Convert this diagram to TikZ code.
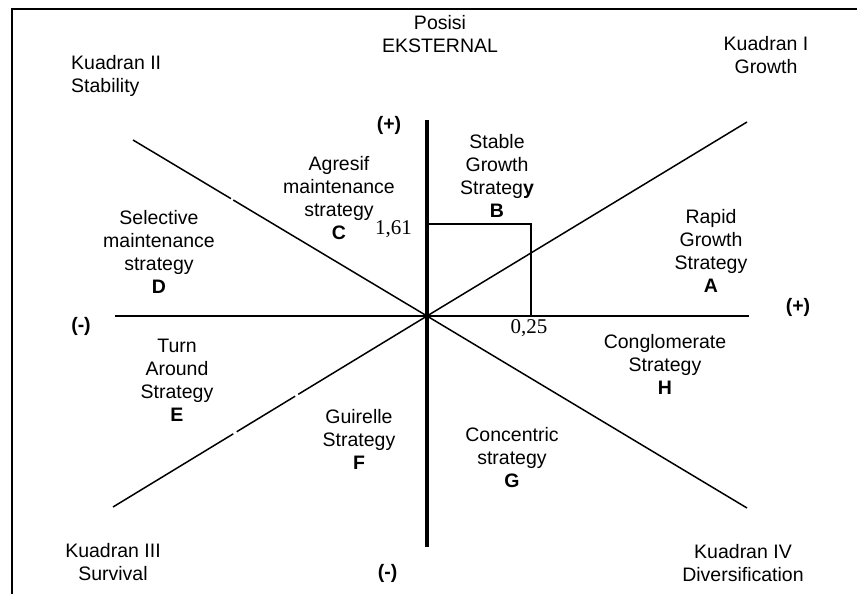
\documentclass[tikz,border=0pt]{standalone}
\usepackage{fontspec}
\setmainfont{Liberation Sans}
\newfontfamily\numfont{Liberation Serif}
\usetikzlibrary{calc}

\begin{document}
\begin{tikzpicture}[x=1pt,y=-1pt,
  txt/.style={font=\fontsize{19.5}{23}\selectfont, inner sep=0pt, align=center, anchor=north},
  sign/.style={font=\fontsize{19.5}{23}\selectfont\bfseries, inner sep=0pt, anchor=base},
  num/.style={font=\numfont\fontsize{21}{24}\selectfont, inner sep=0pt},
  axisv/.style={line width=3.4pt},
  axish/.style={line width=2pt},
  diag/.style={line width=1.5pt},
  guide/.style={line width=1.3pt},
  frameline/.style={line width=2.5pt}]
\useasboundingbox (0,0) rectangle (857,594);

% outer frame (left and top edges)
\coordinate (f1) at (12,594);
\coordinate (f2) at (12,9);
\coordinate (f3) at (857,9);
\draw[frameline] (f1) -- (f2) -- (f3);

% centre and line ends
\coordinate (o) at (427,316);
\coordinate (nw) at (133,140);
\coordinate (ne) at (747,122);
\coordinate (sw) at (113,507);
\coordinate (se) at (747,508);
\coordinate (ytop) at (427,120);
\coordinate (ybot) at (427,547);
\coordinate (xleft) at (115,316);
\coordinate (xright) at (749,316);

% diagonals (with the small breaks in the left ones)
\draw[diag] (nw) -- ($(nw)!0.333!(o)$);
\draw[diag] ($(nw)!0.341!(o)$) -- (o);
\draw[diag] (o) -- (ne);
\draw[diag] (o) -- (se);
\draw[diag] (sw) -- ($(sw)!0.383!(o)$);
\draw[diag] ($(sw)!0.394!(o)$) -- ($(sw)!0.580!(o)$);
\draw[diag] ($(sw)!0.590!(o)$) -- (o);

% position guide
\coordinate (gy) at (427,224);
\coordinate (gc) at (531,224);
\coordinate (gx) at (531,316);
\draw[guide] (gy) -- (gc) -- (gx);

% axes
\draw[axish] (xleft) -- (xright);
\draw[axisv] (ytop) -- (ybot);

% axis signs
\node[sign] (plustop) at (389,130.5) {(+)};
\node[sign] (minusbot) at (387.5,578) {(-)};
\node[sign] (minusleft) at (81,331.5) {(-)};
\node[sign] (plusright) at (798,312) {(+)};

% values
\node[num, anchor=base east] (v161) at (412,234) {1,61};
\node[num, anchor=base] (v025) at (529,333) {0,25};

% headings
\node[txt] (posisi) at (440,13.5) {\strut Posisi\\EKSTERNAL};
\node[txt, anchor=north west, align=left] (k2) at (71,53) {\strut Kuadran II\\Stability};
\node[txt] (k1) at (766,34) {\strut Kuadran I\\Growth};
\node[txt] (k3) at (113,541) {\strut Kuadran III\\Survival};
\node[txt] (k4) at (743,542) {\strut Kuadran IV\\Diversification};

% strategies
\node[txt] (sb) at (497,131.9) {\strut Stable\\Growth\\Strateg\textbf{y}\\\textbf{B}};
\node[txt] (sc) at (339,154) {\strut Agresif\\maintenance\\strategy\\\textbf{C}};
\node[txt] (sd) at (159,208) {\strut Selective\\maintenance\\strategy\\\textbf{D}};
\node[txt] (se) at (177,335.9) {\strut Turn\\Around\\Strategy\\\textbf{E}};
\node[txt] (sa) at (711,206.9) {\strut Rapid\\Growth\\Strategy\\\textbf{A}};
\node[txt] (sh) at (665,331.9) {\strut Conglomerate\\Strategy\\\textbf{H}};
\node[txt] (sf) at (359,406.9) {\strut Guirelle\\Strategy\\\textbf{F}};
\node[txt] (sg) at (512,424.9) {\strut Concentric\\strategy\\\textbf{G}};
\end{tikzpicture}
\end{document}
